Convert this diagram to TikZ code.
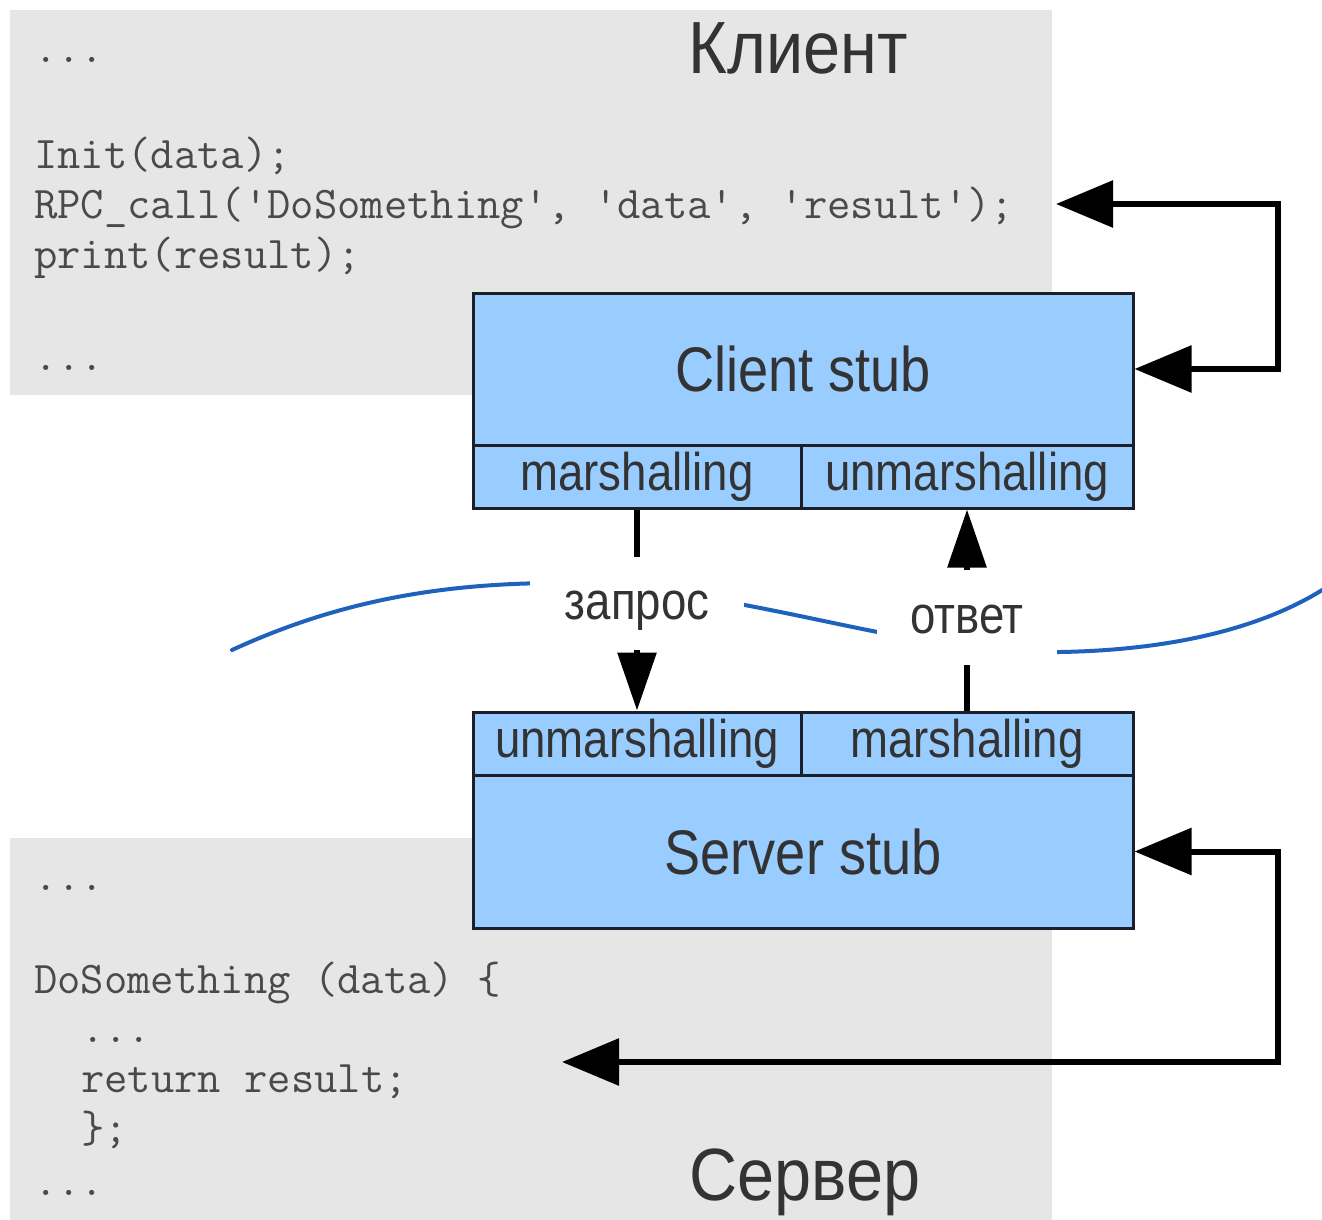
\documentclass[tikz,border=0pt]{standalone}
\usepackage{fontspec}
\usetikzlibrary{arrows.meta}
\newfontfamily\labfont[FakeStretch=0.86]{Liberation Sans}
\newfontfamily\titlefont[FakeStretch=0.9]{Liberation Sans}
\newcommand\q{\char39\relax}
\definecolor{panelgray}{HTML}{E6E6E6}
\definecolor{stubblue}{HTML}{99CCFF}
\definecolor{stubedge}{HTML}{1A1F2A}
\definecolor{labgray}{HTML}{333333}
\definecolor{codegray}{HTML}{4A4A4A}
\definecolor{netblue}{HTML}{1F62BE}
\tikzset{
  panel/.style={fill=panelgray, draw=none},
  stubpart/.style={draw=stubedge, fill=stubblue, line width=3pt, inner sep=0pt,
    text=labgray, font=\labfont\fontsize{53}{60}\selectfont},
  stubtitle/.style={stubpart, font=\labfont\fontsize{63}{70}\selectfont},
  codeline/.style={anchor=base west, inner sep=0pt, text=codegray,
    font=\ttfamily\fontsize{45.3}{50}\selectfont},
  sidetitle/.style={inner sep=0pt, text=labgray, font=\titlefont\fontsize{74}{80}\selectfont},
  msg/.style={fill=white, inner sep=0pt, text=labgray, text height=32pt, text depth=0pt,
    font=\labfont\fontsize{53}{60}\selectfont},
  link/.style={line width=6pt},
  callarrow/.style={line width=6pt, {Triangle[length=57pt,width=46pt]}-{Triangle[length=57pt,width=46pt]}},
  msgarrow/.style={line width=6pt, -{Triangle[length=58pt,width=38pt]}},
  wire/.style={draw=netblue, line width=4pt, line cap=round}
}
\begin{document}
\begin{tikzpicture}[x=1pt,y=-1pt]
\useasboundingbox (0,0) rectangle (1322,1220);

% code panels
\fill[panel] (10,10) rectangle (1052,395);
\fill[panel] (10,838) rectangle (1052,1220);

% client code
\node[codeline] (c0) at (34,63) {...};
\node[codeline] (c1) at (34,168) {Init(data);};
\node[codeline] (c2) at (34,218) {RPC\_call(\q DoSomething\q, \q data\q, \q result\q);};
\node[codeline] (c3) at (34,268) {print(result);};
\node[codeline] (c4) at (34,370) {...};
\node[sidetitle] (client) at (798,48) {Клиент};

% server code
\node[codeline] (s0) at (34,890) {...};
\node[codeline] (s1) at (34,993) {DoSomething (data) \{};
\node[codeline] (s2) at (81,1042) {...};
\node[codeline] (s3) at (81,1092) {return result;};
\node[codeline] (s4) at (81,1142) {\};};
\node[codeline] (s5) at (34,1195) {...};
\node[sidetitle] (server) at (805,1182) {Сервер};

% network line
\draw[wire] (232,650) .. controls (330,605) and (430,583) .. (560,583)
  .. controls (760,590) and (900,655) .. (1060,652)
  .. controls (1180,650) and (1270,625) .. (1330,585);

% client stub
\node[stubtitle, minimum width=660pt, minimum height=152pt] (cstub) at (803,369) {Client stub};
\node[stubpart, minimum width=328pt, minimum height=63pt] (cm) at (637,476.5) {marshalling};
\node[stubpart, minimum width=332pt, minimum height=63pt] (cu) at (967,476.5) {unmarshalling};

% server stub
\node[stubpart, minimum width=328pt, minimum height=63pt] (su) at (637,743.5) {unmarshalling};
\node[stubpart, minimum width=332pt, minimum height=63pt] (sm) at (967,743.5) {marshalling};
\node[stubtitle, minimum width=660pt, minimum height=153pt] (sstub) at (803,851.5) {Server stub};

% messages
\node[msg, minimum width=214pt, minimum height=93pt] (req) at (637,603.5) {запрос};
\node[msg, minimum width=180pt, minimum height=95pt] (resp) at (967,617.5) {ответ};

\draw[link] (cm.south) -- (req.north);
\draw[msgarrow] (req.south) -- (su.north);
\draw[link] (sm.north) -- (resp.south);
\draw[msgarrow] (resp.north) -- (cu.south);

% call and return paths
\coordinate (callin) at (1056,204);
\coordinate (retin) at (562,1062);
\draw[callarrow] (callin) -| (1278,369) -- (cstub.east);
\draw[callarrow] (sstub.east) -| (1278,1062) -- (retin);
\end{tikzpicture}
\end{document}
